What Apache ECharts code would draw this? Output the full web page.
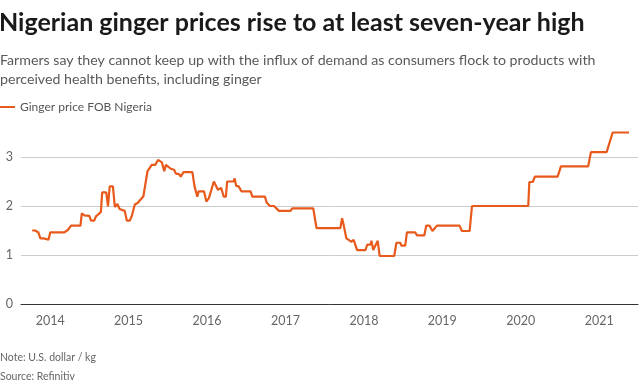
<!DOCTYPE html>
<html>
<head>
<meta charset="utf-8">
<script src="https://cdn.jsdelivr.net/npm/echarts@6/dist/echarts.min.js"></script>
<style>
html,body{margin:0;padding:0;background:#fff;}
#c{width:640px;height:388px;}
</style>
</head>
<body>
<div id="c"></div>
<script>
const titleText = 'Nigerian ginger prices rise to at least seven-year high';
const subtitleText = 'Farmers say they cannot keep up with the influx of demand as consumers flock to products with\nperceived health benefits, including ginger';
const seriesName = 'Ginger price FOB Nigeria';
const noteText = 'Note: U.S. dollar / kg';
const sourceText = 'Source: Refinitiv';
const yTicks = [0, 1, 2, 3];

const dates = [
  '2013-10-09','2013-10-23','2013-10-28','2013-11-07','2013-11-16','2013-12-02','2013-12-05','2013-12-24',
  '2014-01-01','2014-03-08','2014-03-24','2014-04-08','2014-05-22','2014-05-28','2014-06-09','2014-07-02',
  '2014-07-10','2014-07-25','2014-08-02','2014-08-13','2014-08-25','2014-08-31','2014-09-19','2014-09-27',
  '2014-10-05','2014-10-20','2014-10-29','2014-11-10','2014-11-20','2014-12-14','2014-12-24',
  '2015-01-07','2015-01-16','2015-01-24','2015-01-30','2015-02-12','2015-03-11','2015-03-30','2015-04-19',
  '2015-05-05','2015-05-18','2015-05-23','2015-06-05','2015-06-16','2015-06-24','2015-07-16','2015-08-01',
  '2015-08-09','2015-08-24','2015-09-01','2015-09-13','2015-10-25','2015-11-04','2015-11-10','2015-11-17',
  '2015-11-23','2015-12-18','2015-12-29',
  '2016-01-10','2016-02-02','2016-02-21','2016-03-07','2016-03-19','2016-03-29','2016-04-04','2016-05-03',
  '2016-05-09','2016-05-16','2016-05-28','2016-06-09','2016-07-22','2016-07-30','2016-09-27','2016-10-05',
  '2016-10-20','2016-11-08','2016-12-01',
  '2017-01-24','2017-02-01','2017-05-10','2017-05-25','2017-09-13','2017-09-21','2017-09-28','2017-10-11',
  '2017-10-22','2017-11-02','2017-11-14','2017-11-30',
  '2018-01-08','2018-01-16','2018-01-31','2018-02-05','2018-02-13','2018-02-22','2018-03-06','2018-03-15',
  '2018-05-22','2018-06-01','2018-06-19','2018-06-24','2018-07-12','2018-07-20','2018-08-28','2018-09-05',
  '2018-10-09','2018-10-18','2018-11-02','2018-11-16','2018-12-07',
  '2019-03-22','2019-04-02','2019-05-08','2019-05-19',
  '2020-02-05','2020-02-10','2020-02-26','2020-03-07','2020-06-21','2020-07-06','2020-11-10','2020-11-23',
  '2021-02-04','2021-03-04','2021-05-19'
];
const prices = [
  1.50,1.50,1.46,1.46,1.34,1.34,1.31,1.31,
  1.46,1.46,1.51,1.60,1.60,1.85,1.81,1.80,
  1.70,1.70,1.79,1.83,1.88,2.28,2.28,1.99,
  2.40,2.40,1.98,2.04,1.94,1.90,1.70,
  1.70,1.80,1.80,2.03,2.06,2.20,2.71,2.84,
  2.84,2.94,2.96,2.89,2.71,2.84,2.76,2.74,
  2.66,2.65,2.60,2.69,2.69,2.40,2.39,2.19,
  2.30,2.30,2.09,
  2.16,2.50,2.33,2.37,2.19,2.19,2.50,2.50,
  2.56,2.41,2.40,2.30,2.30,2.19,2.19,2.07,
  2.00,2.00,1.90,
  1.90,1.95,1.95,1.55,1.55,1.75,1.62,1.34,
  1.31,1.27,1.31,1.10,
  1.10,1.21,1.21,1.29,1.10,1.10,1.29,0.98,
  0.98,1.25,1.25,1.19,1.19,1.46,1.46,1.40,
  1.40,1.60,1.60,1.49,1.60,
  1.60,1.49,1.49,2.00,
  2.00,2.49,2.49,2.60,2.60,2.81,2.81,3.10,
  3.10,3.50,3.50
];

const FONT = 'Lato, "Open Sans", sans-serif';
const chart = echarts.init(document.getElementById('c'), null, {renderer: 'canvas'});
chart.setOption({
  animation: false,
  backgroundColor: '#fff',
  textStyle: {fontFamily: FONT},
  title: [
    {text: titleText, left: -1, top: 10, padding: 0,
     textStyle: {fontSize: 25, fontWeight: 'bold', color: '#1a1a1a', fontFamily: FONT}},
    {text: subtitleText, left: 0, top: 51, padding: 0,
     textStyle: {fontSize: 14.2, fontWeight: 'normal', color: '#595959', lineHeight: 19, fontFamily: FONT}},
    {text: noteText, left: 0, top: 352, padding: 0,
     textStyle: {fontSize: 10.5, fontWeight: 'normal', color: '#666', fontFamily: FONT}},
    {text: sourceText, left: 0, top: 371, padding: 0,
     textStyle: {fontSize: 10.5, fontWeight: 'normal', color: '#666', fontFamily: FONT}}
  ],
  legend: {
    left: 0, top: 101, padding: 0,
    icon: 'rect', itemWidth: 15, itemHeight: 2,
    textStyle: {fontSize: 12, color: '#555', fontFamily: FONT, padding: [0, 0, 0, 0]},
    data: [seriesName]
  },
  grid: {left: 21, right: 2, top: 132.5, bottom: 84, containLabel: false},
  xAxis: {
    type: 'time',
    min: '2013-08-18',
    max: '2021-06-30',
    minInterval: 365 * 86400000,
    maxInterval: 366 * 86400000,
    splitNumber: 8,
    axisLine: {show: true, lineStyle: {color: '#333', width: 1}},
    axisTick: {show: false},
    splitLine: {show: false},
    axisLabel: {
      color: '#666', fontSize: 12.5, margin: 10, fontFamily: FONT,
      showMinLabel: false, showMaxLabel: false,
      formatter: function (v) {
        const d = new Date(v);
        return (d.getMonth() === 0 && d.getDate() === 1) ? String(d.getFullYear()) : '';
      }
    }
  },
  yAxis: {
    type: 'value',
    min: 0, max: 3.5, interval: 1,
    axisLine: {show: false},
    axisTick: {show: false},
    splitLine: {show: true, showMaxLine: false, lineStyle: {color: '#cccccc', width: 1}},
    axisLabel: {
      color: '#666', fontSize: 12.5, margin: 8, fontFamily: FONT, showMaxLabel: false,
      formatter: function (v) { return yTicks.indexOf(v) >= 0 ? String(v) : ''; }
    }
  },
  series: [{
    name: seriesName,
    type: 'line',
    data: dates.map((d, i) => [d, prices[i]]),
    showSymbol: false,
    symbol: 'none',
    clip: false,
    lineStyle: {color: '#e8591c', width: 2.2},
    itemStyle: {color: '#e8591c'}
  }]
});
</script>
</body>
</html>
